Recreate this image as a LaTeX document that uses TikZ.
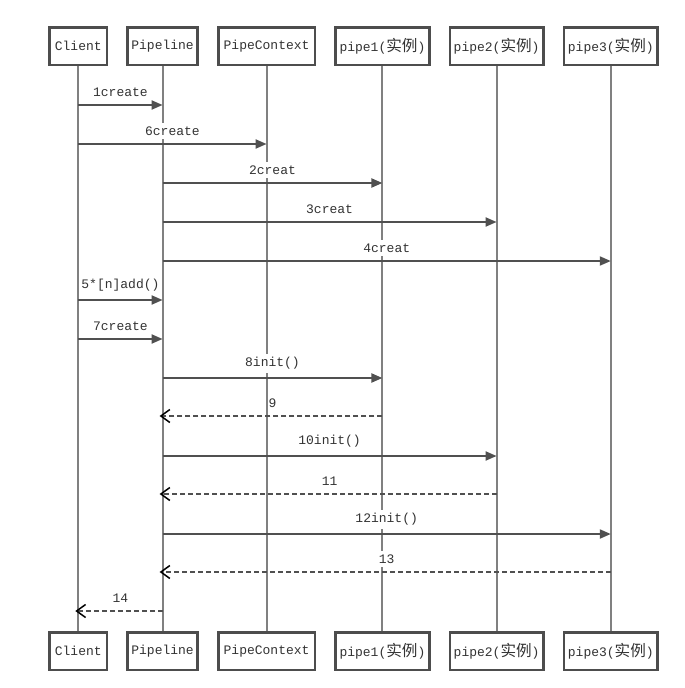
\documentclass[tikz,border=0pt]{standalone}
\usepackage{fontspec}
\setmainfont{Liberation Mono}
\newfontfamily\cjk[Scale=1.2]{Noto Sans CJK SC}
\usepackage{tikz}
\usetikzlibrary{arrows.meta, positioning}
\definecolor{boxborder}{HTML}{4D4D4D}
\definecolor{lifegray}{HTML}{808080}
\definecolor{msgline}{HTML}{505050}
\tikzstyle{actor} = [rectangle, draw=boxborder, line width=2.6pt, fill=white, minimum height=37.4pt, inner sep=0pt, text=black!80, font=\fontsize{13}{15}\selectfont]
\tikzstyle{lifeline} = [line width=2pt, color=lifegray]
\tikzstyle{call} = [line width=2pt, color=msgline, -{Triangle[length=11pt,width=9pt]}]
\tikzstyle{reply} = [line width=1.8pt, color=msgline, dash pattern=on 5pt off 3pt, -{Straight Barb[length=9pt,width=13pt,line width=1.5pt,color=black]}, shorten >=-3pt]
\tikzstyle{msglabel} = [midway, above=4pt, fill=white, inner xsep=1pt, inner ysep=3.5pt, text=black!80, font=\fontsize{13}{15}\selectfont]

\begin{document}
\begin{tikzpicture}[x=1pt, y=-1pt, node distance=18pt]
    \useasboundingbox (0,0) rectangle (685,688);
    % Nodes
    \node (client) [actor, minimum width=57.4pt] at (78.3,46.2) {Client};
    \node (pipeline) [actor, minimum width=70pt, right=of client] {Pipeline};
    \node (context) [actor, minimum width=96.8pt, right=of pipeline] {PipeContext};
    \node (pipe1) [actor, minimum width=93.6pt, right=of context] {pipe1({\cjk 实例})};
    \node (pipe2) [actor, minimum width=93.6pt, right=of pipe1] {pipe2({\cjk 实例})};
    \node (pipe3) [actor, minimum width=93.6pt, right=of pipe2] {pipe3({\cjk 实例})};

    \node (clientB) [actor, minimum width=57.4pt, below=565pt of client] {Client};
    \node (pipelineB) [actor, minimum width=70pt, below=565pt of pipeline] {Pipeline};
    \node (contextB) [actor, minimum width=96.8pt, below=565pt of context] {PipeContext};
    \node (pipe1B) [actor, minimum width=93.6pt, below=565pt of pipe1] {pipe1({\cjk 实例})};
    \node (pipe2B) [actor, minimum width=93.6pt, below=565pt of pipe2] {pipe2({\cjk 实例})};
    \node (pipe3B) [actor, minimum width=93.6pt, below=565pt of pipe3] {pipe3({\cjk 实例})};

    % Lifelines
    \draw [lifeline] (client) -- (clientB);
    \draw [lifeline] (pipeline) -- (pipelineB);
    \draw [lifeline] (context) -- (contextB);
    \draw [lifeline] (pipe1) -- (pipe1B);
    \draw [lifeline] (pipe2) -- (pipe2B);
    \draw [lifeline] (pipe3) -- (pipe3B);

    % Arrows
    \draw [call] (client |- 0,105) -- node[msglabel] {1create} (pipeline |- 0,105);
    \draw [call] (client |- 0,144) -- node[msglabel] {6create} (context |- 0,144);
    \draw [call] (pipeline |- 0,183) -- node[msglabel] {2creat} (pipe1 |- 0,183);
    \draw [call] (pipeline |- 0,222) -- node[msglabel] {3creat} (pipe2 |- 0,222);
    \draw [call] (pipeline |- 0,261) -- node[msglabel] {4creat} (pipe3 |- 0,261);
    \draw [call] (client |- 0,300) -- node[msglabel] {5*[n]add()} (pipeline |- 0,300);
    \draw [call] (client |- 0,339) -- node[msglabel] {7create} (pipeline |- 0,339);
    \draw [call] (pipeline |- 0,378) -- node[msglabel] {8init()} (pipe1 |- 0,378);
    \draw [reply] (pipe1 |- 0,416) -- node[msglabel] {9} (pipeline |- 0,416);
    \draw [call] (pipeline |- 0,456) -- node[msglabel] {10init()} (pipe2 |- 0,456);
    \draw [reply] (pipe2 |- 0,494) -- node[msglabel] {11} (pipeline |- 0,494);
    \draw [call] (pipeline |- 0,534) -- node[msglabel] {12init()} (pipe3 |- 0,534);
    \draw [reply] (pipe3 |- 0,572) -- node[msglabel] {13} (pipeline |- 0,572);
    \draw [reply] (pipeline |- 0,611) -- node[msglabel] {14} (client |- 0,611);
\end{tikzpicture}
\end{document}
